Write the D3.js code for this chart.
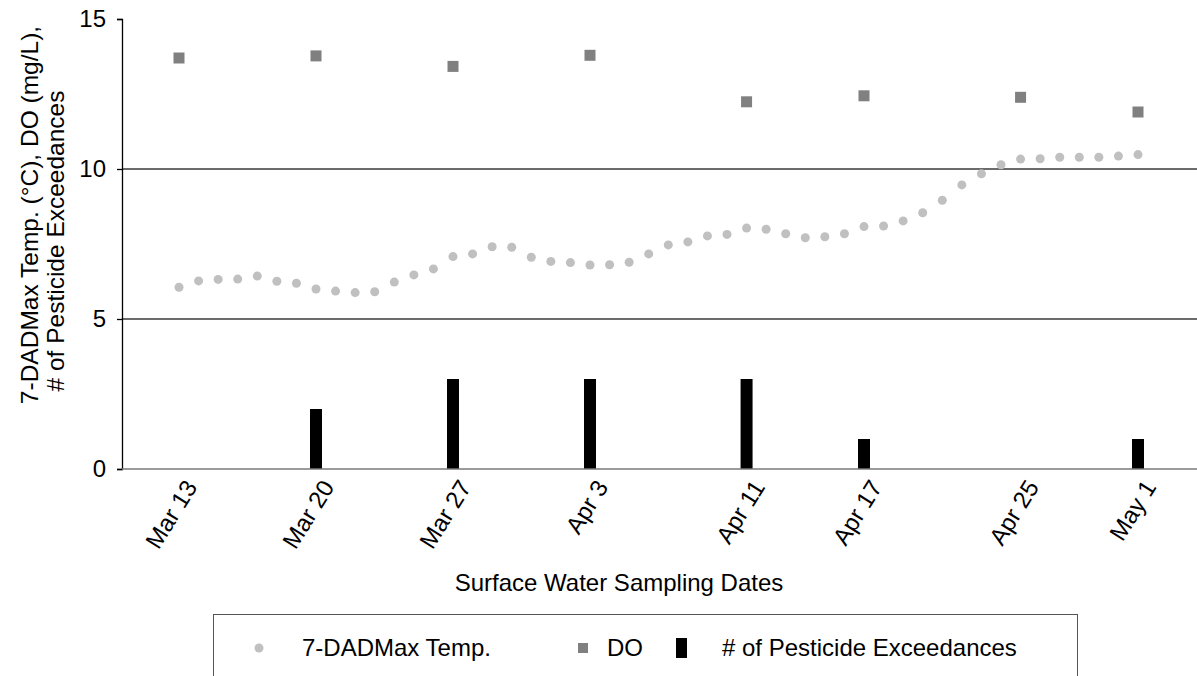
<!DOCTYPE html>
<html>
<head>
<meta charset="utf-8">
<script src="https://cdn.jsdelivr.net/npm/d3@7"></script>
<style>
  html, body { margin: 0; padding: 0; background: #fff; }
  svg { display: block; font-family: "Liberation Sans", Arial, sans-serif; }
</style>
</head>
<body>
<svg id="chart" width="1197" height="676"></svg>
<script>
// ---- data ----
const tempStart = "2019-03-13";
const tempEnd = "2019-05-01";
const tempValues = [6.06, 6.27, 6.32, 6.33, 6.43, 6.26, 6.19, 6.00, 5.93, 5.88,
                    5.91, 6.23, 6.47, 6.67, 7.08, 7.17, 7.41, 7.39, 7.06, 6.92,
                    6.88, 6.80, 6.81, 6.89, 7.17, 7.47, 7.57, 7.77, 7.82, 8.03,
                    7.99, 7.84, 7.71, 7.74, 7.84, 8.08, 8.10, 8.27, 8.54, 8.96,
                    9.47, 9.84, 10.14, 10.33, 10.34, 10.39, 10.39, 10.39, 10.43, 10.48];
const sampleDates = ["2019-03-13", "2019-03-20", "2019-03-27", "2019-04-03",
                     "2019-04-11", "2019-04-17", "2019-04-25", "2019-05-01"];
const sampleLabels = ["Mar 13", "Mar 20", "Mar 27", "Apr 3", "Apr 11", "Apr 17", "Apr 25", "May 1"];
const doValues = [13.70, 13.77, 13.42, 13.79, 12.24, 12.44, 12.39, 11.90];
const exceedances = [0, 2, 3, 3, 3, 1, 0, 1];
const yTicks = [0, 5, 10, 15];
const gridValues = [5, 10];
const legendLabels = ["7-DADMax Temp.", "DO", "# of Pesticide Exceedances"];

// ---- setup ----
const parse = d3.utcParse("%Y-%m-%d");
const tempDates = d3.utcDay.range(parse(tempStart), d3.utcDay.offset(parse(tempEnd), 1));
const temps = tempDates.map((d, i) => ({ date: d, v: tempValues[i] }));
const samples = sampleDates.map((s, i) => ({ date: parse(s), label: sampleLabels[i], dO: doValues[i], ex: exceedances[i] }));

const svg = d3.select("#chart");
const plotLeft = 122, plotRight = 1197, plotTop = 19, plotBottom = 469;
const FS = 24;

const x = d3.scaleUtc().domain([parse(tempStart), parse(tempEnd)]).range([179, 1138]);
const y = d3.scaleLinear().domain([0, 15]).range([plotBottom, plotTop]);

// gridlines
svg.append("g").selectAll("line").data(gridValues).join("line")
  .attr("x1", plotLeft).attr("x2", plotRight)
  .attr("y1", d => y(d)).attr("y2", d => y(d))
  .attr("stroke", "#3a3a3a").attr("stroke-width", 1.3);

// y axis
const yAxis = svg.append("g").attr("transform", `translate(${plotLeft},0)`)
  .call(d3.axisLeft(y).tickValues(yTicks).tickSize(5).tickPadding(11).tickFormat(d3.format("d")));
yAxis.select(".domain").attr("stroke", "#000").attr("stroke-width", 1.3);
yAxis.selectAll(".tick line").attr("stroke", "#000").attr("stroke-width", 1.3);
yAxis.selectAll("text").attr("font-size", FS).attr("fill", "#000")
  .attr("font-family", "'Liberation Sans', Arial, sans-serif");

// bars
const barW = 12;
svg.append("g").selectAll("rect").data(samples).join("rect")
  .attr("x", d => x(d.date) - barW / 2)
  .attr("width", barW)
  .attr("y", d => y(d.ex))
  .attr("height", d => y(0) - y(d.ex))
  .attr("fill", "#000");

// x axis line
svg.append("line")
  .attr("x1", plotLeft).attr("x2", plotRight)
  .attr("y1", y(0)).attr("y2", y(0))
  .attr("stroke", "#7a7a7a").attr("stroke-width", 1.5);

// x tick labels
const xAxis = svg.append("g").attr("transform", `translate(0,${plotBottom})`)
  .call(d3.axisBottom(x).tickValues(samples.map(d => d.date)).tickSize(0)
    .tickFormat((d, i) => sampleLabels[i]));
xAxis.select(".domain").remove();
xAxis.selectAll("text")
  .attr("font-size", FS).attr("fill", "#000")
  .attr("font-family", "'Liberation Sans', Arial, sans-serif")
  .attr("text-anchor", "end")
  .attr("dy", "0.35em")
  .attr("transform", "translate(9,12) rotate(-58)");

// temperature dots
svg.append("g").selectAll("circle").data(temps).join("circle")
  .attr("cx", d => x(d.date)).attr("cy", d => y(d.v))
  .attr("r", 4.5).attr("fill", "#c0c0c0");

// DO squares
const sq = 11;
svg.append("g").selectAll("rect").data(samples).join("rect")
  .attr("x", d => x(d.date) - sq / 2).attr("y", d => y(d.dO) - sq / 2)
  .attr("width", sq).attr("height", sq).attr("fill", "#808080");

// axis titles
svg.append("text")
  .attr("x", 619).attr("y", 591)
  .attr("text-anchor", "middle").attr("font-size", FS).attr("fill", "#000")
  .text("Surface Water Sampling Dates");

svg.append("text")
  .attr("transform", "translate(38,215) rotate(-90)")
  .attr("text-anchor", "middle").attr("font-size", 24.5).attr("fill", "#000")
  .text("7-DADMax Temp. (°C), DO (mg/L),");
svg.append("text")
  .attr("transform", "translate(64,241) rotate(-90)")
  .attr("text-anchor", "middle").attr("font-size", 24.5).attr("fill", "#000")
  .text("# of Pesticide Exceedances");

// legend
const lg = svg.append("g");
lg.append("rect").attr("x", 213.5).attr("y", 614.5).attr("width", 864).attr("height", 80)
  .attr("fill", "#fff").attr("stroke", "#555").attr("stroke-width", 1);
lg.append("circle").attr("cx", 259).attr("cy", 648).attr("r", 4.5).attr("fill", "#c0c0c0");
lg.append("text").attr("x", 302).attr("y", 656).attr("font-size", FS).text(legendLabels[0]);
lg.append("rect").attr("x", 578).attr("y", 643).attr("width", 10).attr("height", 10).attr("fill", "#808080");
lg.append("text").attr("x", 607).attr("y", 656).attr("font-size", FS).text(legendLabels[1]);
lg.append("rect").attr("x", 676).attr("y", 638).attr("width", 11).attr("height", 20).attr("fill", "#000");
lg.append("text").attr("x", 722).attr("y", 656).attr("font-size", FS).text(legendLabels[2]);
</script>
</body>
</html>
